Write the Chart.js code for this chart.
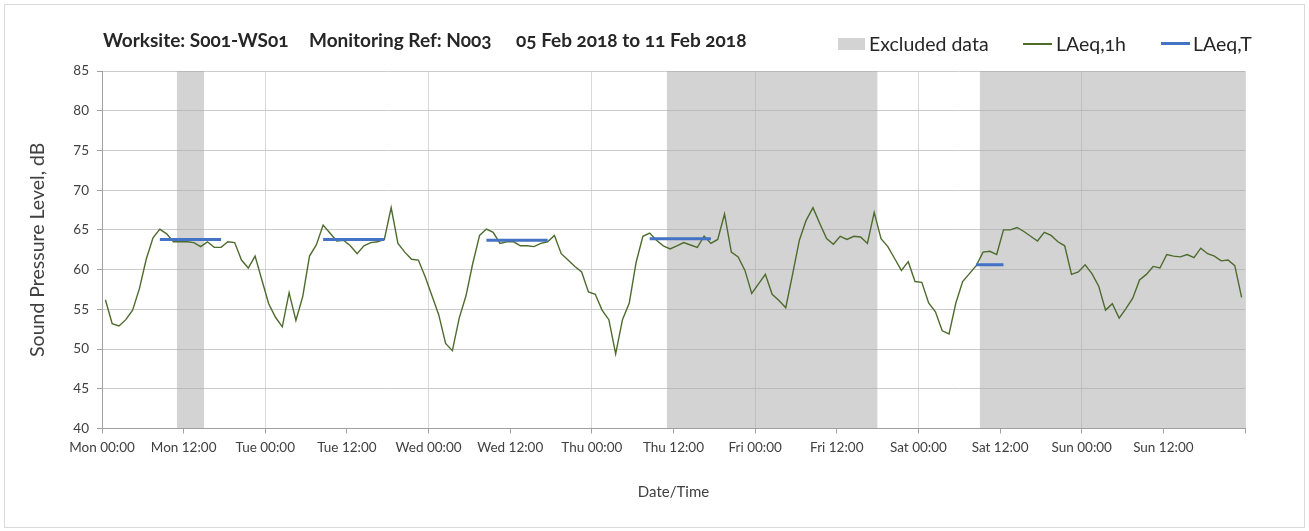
<!DOCTYPE html>
<html>
<head>
<meta charset="utf-8">
<title>Noise monitoring N003</title>
<script src="https://cdn.jsdelivr.net/npm/chart.js@4.4.1/dist/chart.umd.min.js"></script>
<style>
  html, body { margin: 0; padding: 0; background: #fff; }
  #wrap { position: relative; width: 1309px; height: 531px; font-family: Lato, "Open Sans", sans-serif; color: #262626; }
  #frame { position: absolute; left: 4px; top: 4px; width: 1301px; height: 524px; border: 1px solid #d9d9d9; box-sizing: border-box; pointer-events: none; }
  #chart { position: absolute; left: 0; top: 0; width: 1309px; height: 531px; }
  .hdr { position: absolute; top: 29px; font-weight: bold; font-size: 19px; line-height: 22px; white-space: nowrap; font-variant-numeric: oldstyle-nums; }
  .lg { position: absolute; top: 32px; font-size: 19.5px; line-height: 23px; white-space: nowrap; font-variant-numeric: oldstyle-nums; }
  .sw { position: absolute; }
</style>
</head>
<body>
<div id="wrap">
  <div id="frame"></div>
  <canvas id="chart"></canvas>
  <span class="hdr" style="left:103px">Worksite: S001-WS01</span>
  <span class="hdr" style="left:309px">Monitoring Ref: N003</span>
  <span class="hdr" style="left:516px">05 Feb 2018 to 11 Feb 2018</span>

  <span class="sw" style="left:838px;top:38px;width:27px;height:12px;background:#d3d3d3"></span>
  <span class="lg" style="left:869px">Excluded data</span>
  <span class="sw" style="left:1023px;top:43px;width:29px;height:1.5px;background:#4e6b2e"></span>
  <span class="lg" style="left:1056px">LAeq,1h</span>
  <span class="sw" style="left:1161px;top:42px;width:29px;height:3px;background:#4472c4"></span>
  <span class="lg" style="left:1193px">LAeq,T</span>
</div>
<script>
// hourly LAeq,1h, Mon 00:00 .. Sun 23:00 (one value per hour)
const laeq1h = [
  56.2, 53.2, 52.9, 53.7, 54.9, 57.6, 61.3, 64.0, 65.1, 64.5, 63.5, 63.5,
  63.5, 63.4, 62.9, 63.5, 62.8, 62.8, 63.5, 63.4, 61.2, 60.2, 61.7, 58.7,
  55.7, 54.0, 52.8, 57.1, 53.6, 56.6, 61.7, 63.1, 65.6, 64.6, 63.6, 63.7,
  63.0, 62.0, 63.0, 63.4, 63.5, 63.8, 67.8, 63.3, 62.2, 61.3, 61.2, 59.1,
  56.7, 54.3, 50.7, 49.8, 53.9, 56.7, 60.8, 64.3, 65.1, 64.7, 63.3, 63.5,
  63.5, 63.0, 63.0, 62.9, 63.3, 63.5, 64.3, 62.0, 61.2, 60.4, 59.7, 57.2,
  56.9, 54.9, 53.7, 49.4, 53.7, 55.8, 60.9, 64.2, 64.6, 63.7, 63.0, 62.6,
  63.0, 63.4, 63.1, 62.8, 64.2, 63.3, 63.8, 67.0, 62.2, 61.6, 59.9, 57.0,
  58.2, 59.4, 56.9, 56.1, 55.2, 59.4, 63.7, 66.2, 67.8, 65.8, 63.9, 63.2,
  64.2, 63.8, 64.2, 64.1, 63.3, 67.2, 63.9, 62.9, 61.4, 59.9, 61.0, 58.5,
  58.4, 55.8, 54.7, 52.3, 51.9, 55.8, 58.5, 59.5, 60.5, 62.2, 62.3, 61.9,
  65.0, 65.0, 65.3, 64.8, 64.2, 63.6, 64.7, 64.3, 63.5, 63.0, 59.4, 59.7,
  60.6, 59.5, 57.9, 54.9, 55.7, 53.9, 55.1, 56.4, 58.7, 59.4, 60.4, 60.2,
  61.9, 61.7, 61.6, 61.9, 61.5, 62.7, 62.0, 61.7, 61.1, 61.2, 60.5, 56.5
];

// LAeq,T over each daytime period (first and last hour index)
const periodStart = [8, 32, 56, 80, 128];
const periodEnd = [17, 41, 65, 89, 132];
const periodLevel = [63.8, 63.8, 63.7, 63.9, 60.6];

// excluded spans, in hours from Mon 00:00
const excludedFrom = [11, 83, 129];
const excludedTo = [15, 114, 168];

const dayNames = ["Mon", "Tue", "Wed", "Thu", "Fri", "Sat", "Sun"];
const Y_MIN = 40, Y_MAX = 85, Y_STEP = 5;
const X_MAX = 168, X_STEP = 12;

const GREEN = "#4e6b2e";
const BLUE = "#4472c4";
const TEXT = "#404040";

// each hourly value sits in the middle of its hour
const lineData = laeq1h.map((v, i) => ({ x: i + 0.5, y: v }));

const periodData = [];
periodStart.forEach((s, k) => {
  periodData.push({ x: s + 0.5, y: periodLevel[k] });
  periodData.push({ x: periodEnd[k] + 0.5, y: periodLevel[k] });
  periodData.push({ x: periodEnd[k] + 0.5, y: null });
});

const excludedData = [];
excludedFrom.forEach((s, k) => {
  excludedData.push({ x: s, y: Y_MAX });
  excludedData.push({ x: excludedTo[k], y: Y_MAX });
  excludedData.push({ x: excludedTo[k], y: null });
});

const FONT = "Lato, 'Open Sans', sans-serif";

new Chart(document.getElementById("chart"), {
  type: "line",
  data: {
    datasets: [
      {
        label: "LAeq,T", data: periodData, order: 1,
        borderColor: BLUE, borderWidth: 3, pointRadius: 0, spanGaps: false, fill: false,
      },
      {
        label: "LAeq,1h", data: lineData, order: 2,
        borderColor: GREEN, borderWidth: 1.4, pointRadius: 0, tension: 0, fill: false,
      },
      {
        label: "Excluded data", data: excludedData, order: 3,
        borderColor: "rgba(0,0,0,0)", borderWidth: 0, pointRadius: 0, spanGaps: false,
        backgroundColor: "rgba(167,167,167,0.5)", fill: "start",
      },
    ],
  },
  options: {
    responsive: true,
    maintainAspectRatio: false,
    animation: false,
    events: [],
    layout: { padding: { top: 71, right: 64, left: 0, bottom: 0 } },
    plugins: { legend: { display: false }, tooltip: { enabled: false } },
    scales: {
      x: {
        type: "linear", min: 0, max: X_MAX,
        afterFit: (s) => { s.height = 102.5; },
        afterBuildTicks: (s) => {
          const t = [];
          for (let v = 0; v <= X_MAX; v += X_STEP) t.push({ value: v });
          s.ticks = t;
        },
        grid: {
          color: (c) => (c.tick && c.tick.value % 24 === 0 ? "#d9d9d9" : "rgba(0,0,0,0)"),
          tickColor: "#a0a0a0", tickLength: 5, lineWidth: 1,
        },
        border: { color: "#a0a0a0", width: 1 },
        ticks: {
          autoSkip: false, maxRotation: 0, padding: 6, color: TEXT,
          font: { family: FONT, size: 13.5 },
          callback: (v) => (v >= X_MAX ? "" : dayNames[Math.floor(v / 24)] + " " + (v % 24 === 0 ? "00" : "12") + ":00"),
        },
        title: {
          display: true, text: "Date/Time", color: TEXT,
          font: { family: FONT, size: 15 }, padding: { top: 0, bottom: 30 },
        },
      },
      y: {
        min: Y_MIN, max: Y_MAX,
        afterFit: (s) => { s.width = 102; },
        grid: { color: "#cccccc", tickColor: "#a0a0a0", tickLength: 5, lineWidth: 1 },
        border: { color: "#a0a0a0", width: 1 },
        ticks: { stepSize: Y_STEP, padding: 8, color: TEXT, font: { family: FONT, size: 13.5 } },
        title: {
          display: true, text: "Sound Pressure Level, dB", color: TEXT,
          font: { family: FONT, size: 19.5 }, padding: { top: 26.3, bottom: 0 },
        },
      },
    },
  },
});
</script>
</body>
</html>
